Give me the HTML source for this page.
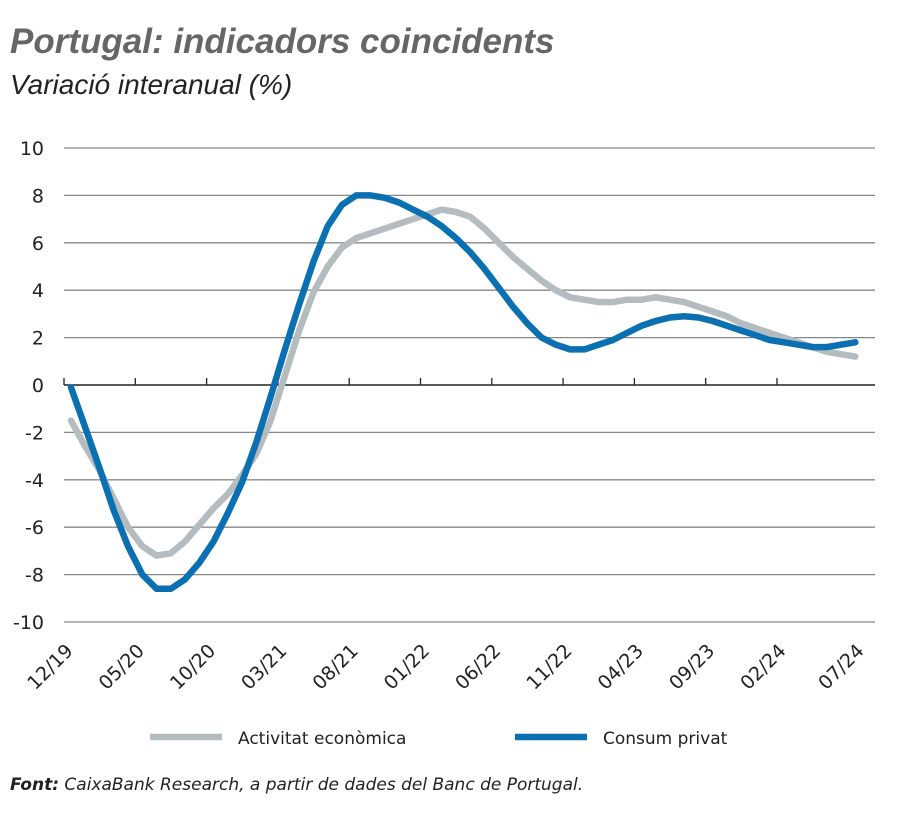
<!DOCTYPE html><html><head><meta charset="utf-8"><style>
body{margin:0;background:#fff;width:900px;height:830px;overflow:hidden;font-family:"DejaVu Sans","Liberation Sans",sans-serif}
</style></head><body>
<svg id="s" width="900" height="830" xmlns="http://www.w3.org/2000/svg">
<text x="10" y="53" font-size="35" font-weight="bold" font-style="italic" fill="#666" font-family="Liberation Sans,sans-serif">Portugal: indicadors coincidents</text>
<text x="10" y="94" font-size="28" font-style="italic" fill="#222" font-family="Liberation Sans,sans-serif">Variació interanual (%)</text>
<g id="g"></g>
<line x1="150" y1="737" x2="222" y2="737" stroke="#b4bcbf" stroke-width="6.5"/>
<text x="238" y="744" font-size="17" fill="#222">Activitat econòmica</text>
<line x1="515" y1="737" x2="587" y2="737" stroke="#0a70b2" stroke-width="6.5"/>
<text x="603" y="744" font-size="17" fill="#222">Consum privat</text>
<text x="10" y="790" font-size="17" font-style="italic" fill="#222"><tspan font-weight="bold">Font:</tspan> CaixaBank Research, a partir de dades del Banc de Portugal.</text>
</svg>
<script>
var g=document.getElementById('g'),h='';
function Y(v){return 385-23.7*v}
for(var v=-10;v<=10;v+=2){var y=Y(v);
h+='<text x="44" y="'+(y+7)+'" font-size="19" text-anchor="end" fill="#222">'+v+'</text>';
if(v!=0)h+='<line x1="64" x2="875" y1="'+y+'" y2="'+y+'" stroke="#888" stroke-width="1.3"/>';}
var labs=['12/19','05/20','10/20','03/21','08/21','01/22','06/22','11/22','04/23','09/23','02/24','07/24'];
for(var i=0;i<12;i++){var x=64+71.3*i;if(i==11)x=855;
if(i<11)h+='<line x1="'+x+'" x2="'+x+'" y1="385" y2="378" stroke="#222" stroke-width="1.3"/>';
var lx=x+10;h+='<text transform="translate('+lx+',652) rotate(-45)" font-size="19" text-anchor="end" fill="#222">'+labs[i]+'</text>';}
h+='<line x1="64" x2="875" y1="385" y2="385" stroke="#222" stroke-width="1.5"/>';
var b=[-0.1,-1.8,-3.5,-5.3,-6.8,-8.0,-8.6,-8.6,-8.2,-7.5,-6.6,-5.4,-4.1,-2.4,-0.5,1.5,3.4,5.2,6.7,7.6,8.0,8.0,7.9,7.7,7.4,7.1,6.7,6.2,5.6,4.9,4.1,3.3,2.6,2.0,1.7,1.5,1.5,1.7,1.9,2.2,2.5,2.7,2.85,2.9,2.85,2.7,2.5,2.3,2.1,1.9,1.8,1.7,1.6,1.6,1.7,1.8];
var a=[-1.5,-2.6,-3.6,-4.8,-6.0,-6.8,-7.2,-7.1,-6.6,-5.9,-5.2,-4.6,-3.8,-2.9,-1.5,0.4,2.3,3.9,5.0,5.8,6.2,6.4,6.6,6.8,7.0,7.2,7.4,7.3,7.1,6.6,6.0,5.4,4.9,4.4,4.0,3.7,3.6,3.5,3.5,3.6,3.6,3.7,3.6,3.5,3.3,3.1,2.9,2.6,2.4,2.2,2.0,1.8,1.6,1.4,1.3,1.2];
function P(d){return d.map(function(v,i){return (71+14.26*i).toFixed(1)+','+Y(v).toFixed(1)}).join(' ')}
h+='<polyline points="'+P(a)+'" fill="none" stroke="#b4bcbf" stroke-width="6.5" stroke-linejoin="round" stroke-linecap="round"/>';
h+='<polyline points="'+P(b)+'" fill="none" stroke="#0a70b2" stroke-width="6.5" stroke-linejoin="round" stroke-linecap="round"/>';
g.innerHTML=h;
</script>
</body></html>
